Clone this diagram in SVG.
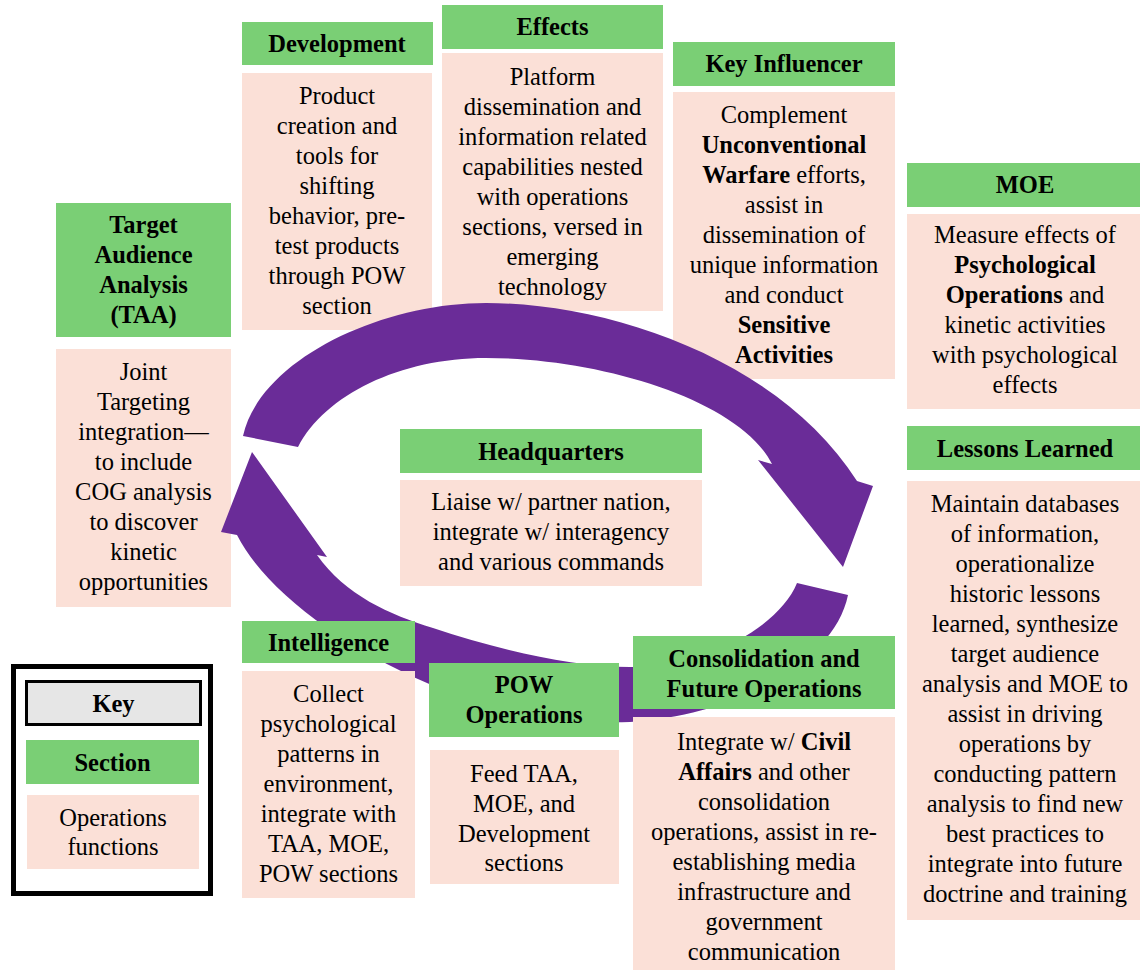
<svg xmlns="http://www.w3.org/2000/svg" width="1140" height="972" viewBox="0 0 1140 972" font-family="Liberation Serif, Times New Roman, serif">
  <style>
    .hdr { fill: #7acf75; }
    .body { fill: #fbe0d7; }
    text { font-family: "Liberation Serif", "Times New Roman", serif; font-size: 24.5px; fill: #000; text-anchor: middle; }
    .b { font-weight: bold; }
    .flow { fill: #6a2c98; }
  </style>
  <rect width="1140" height="972" fill="#fff"/>

  <!-- top row sections -->
  <g id="development">
    <rect class="hdr" x="242" y="22" width="191" height="43"/>
    <rect class="body" x="242" y="73" width="190" height="257"/>
    <text class="b" x="337" y="52">Development</text>
    <text x="337" y="104">Product</text>
    <text x="337" y="134">creation and</text>
    <text x="337" y="164">tools for</text>
    <text x="337" y="194">shifting</text>
    <text x="337" y="224">behavior, pre-</text>
    <text x="337" y="254">test products</text>
    <text x="337" y="284">through POW</text>
    <text x="337" y="314">section</text>
  </g>

  <g id="effects">
    <rect class="hdr" x="442" y="5" width="221" height="44"/>
    <rect class="body" x="442" y="53" width="221" height="258"/>
    <text class="b" x="552.5" y="35">Effects</text>
    <text x="552.5" y="85">Platform</text>
    <text x="552.5" y="115">dissemination and</text>
    <text x="552.5" y="145">information related</text>
    <text x="552.5" y="175">capabilities nested</text>
    <text x="552.5" y="205">with operations</text>
    <text x="552.5" y="235">sections, versed in</text>
    <text x="552.5" y="265">emerging</text>
    <text x="552.5" y="295">technology</text>
  </g>

  <g id="key-influencer">
    <rect class="hdr" x="673" y="42" width="222" height="44"/>
    <rect class="body" x="673" y="92" width="222" height="287"/>
    <text class="b" x="784" y="72">Key Influencer</text>
    <text x="784" y="123">Complement</text>
    <text class="b" x="784" y="153">Unconventional</text>
    <text x="784" y="183"><tspan class="b">Warfare</tspan> efforts,</text>
    <text x="784" y="213">assist in</text>
    <text x="784" y="243">dissemination of</text>
    <text x="784" y="273">unique information</text>
    <text x="784" y="303">and conduct</text>
    <text class="b" x="784" y="333">Sensitive</text>
    <text class="b" x="784" y="363">Activities</text>
  </g>

  <g id="moe">
    <rect class="hdr" x="907" y="163" width="236" height="44"/>
    <rect class="body" x="907" y="214" width="236" height="195"/>
    <text class="b" x="1025" y="193">MOE</text>
    <text x="1025" y="243">Measure effects of</text>
    <text class="b" x="1025" y="273">Psychological</text>
    <text x="1025" y="303"><tspan class="b">Operations</tspan> and</text>
    <text x="1025" y="333">kinetic activities</text>
    <text x="1025" y="363">with psychological</text>
    <text x="1025" y="393">effects</text>
  </g>

  <g id="target-audience-analysis">
    <rect class="hdr" x="56" y="203" width="175" height="134"/>
    <rect class="body" x="56" y="349" width="175" height="258"/>
    <text class="b" x="143.5" y="233">Target</text>
    <text class="b" x="143.5" y="263">Audience</text>
    <text class="b" x="143.5" y="293">Analysis</text>
    <text class="b" x="143.5" y="323">(TAA)</text>
    <text x="143.5" y="380">Joint</text>
    <text x="143.5" y="410">Targeting</text>
    <text x="143.5" y="440">integration—</text>
    <text x="143.5" y="470">to include</text>
    <text x="143.5" y="500">COG analysis</text>
    <text x="143.5" y="530">to discover</text>
    <text x="143.5" y="560">kinetic</text>
    <text x="143.5" y="590">opportunities</text>
  </g>

  <g id="headquarters">
    <rect class="hdr" x="400" y="429" width="302" height="44"/>
    <rect class="body" x="400" y="480" width="302" height="106"/>
    <text class="b" x="551" y="460">Headquarters</text>
    <text x="551" y="510">Liaise w/ partner nation,</text>
    <text x="551" y="540">integrate w/ interagency</text>
    <text x="551" y="570">and various commands</text>
  </g>

  <g id="lessons-learned">
    <rect class="hdr" x="907" y="426" width="236" height="44"/>
    <rect class="body" x="907" y="481" width="236" height="439"/>
    <text class="b" x="1025" y="457">Lessons Learned</text>
    <text x="1025" y="512">Maintain databases</text>
    <text x="1025" y="542">of information,</text>
    <text x="1025" y="572">operationalize</text>
    <text x="1025" y="602">historic lessons</text>
    <text x="1025" y="632">learned, synthesize</text>
    <text x="1025" y="662">target audience</text>
    <text x="1025" y="692">analysis and MOE to</text>
    <text x="1025" y="722">assist in driving</text>
    <text x="1025" y="752">operations by</text>
    <text x="1025" y="782">conducting pattern</text>
    <text x="1025" y="812">analysis to find new</text>
    <text x="1025" y="842">best practices to</text>
    <text x="1025" y="872">integrate into future</text>
    <text x="1025" y="902">doctrine and training</text>
  </g>

  <!-- cycle arrows -->
  <g id="connectors">
    <path class="flow" d="M243,436 C260,360 380,303 486,303 C610,303 780,360 857,481 L873,486 L843,567 L758,460 L772,464 C740,400 600,358 486,358 C400,358 325,395 298,447 Z"/>
    <path class="flow" d="M797,583 L848,595 C835,660 740,715 630,722 C560,725 480,708 427,683 C340,645 265,590 237,535 L221,532 L252,452 L327,557 L317,555 C345,595 390,615 433,628 C500,650 570,667 630,667 C710,667 780,625 797,583 Z"/>
  </g>

  <!-- bottom row sections -->
  <g id="intelligence">
    <rect class="hdr" x="242" y="621" width="173" height="42"/>
    <rect class="body" x="242" y="671" width="173" height="227"/>
    <text class="b" x="328.5" y="651">Intelligence</text>
    <text x="328.5" y="702">Collect</text>
    <text x="328.5" y="732">psychological</text>
    <text x="328.5" y="762">patterns in</text>
    <text x="328.5" y="792">environment,</text>
    <text x="328.5" y="822">integrate with</text>
    <text x="328.5" y="852">TAA, MOE,</text>
    <text x="328.5" y="882">POW sections</text>
  </g>

  <g id="pow-operations">
    <rect class="hdr" x="429" y="663" width="190" height="74"/>
    <rect class="body" x="430" y="750" width="189" height="134"/>
    <text class="b" x="524" y="693">POW</text>
    <text class="b" x="524" y="723">Operations</text>
    <text x="524" y="782">Feed TAA,</text>
    <text x="524" y="812">MOE, and</text>
    <text x="524" y="842">Development</text>
    <text x="524" y="871">sections</text>
  </g>

  <g id="consolidation">
    <rect class="hdr" x="633" y="636" width="262" height="73"/>
    <rect class="body" x="633" y="717" width="262" height="253"/>
    <text class="b" x="764" y="667">Consolidation and</text>
    <text class="b" x="764" y="697">Future Operations</text>
    <text x="764" y="750">Integrate w/ <tspan class="b">Civil</tspan></text>
    <text x="764" y="780"><tspan class="b">Affairs</tspan> and other</text>
    <text x="764" y="810">consolidation</text>
    <text x="764" y="840">operations, assist in re-</text>
    <text x="764" y="870">establishing media</text>
    <text x="764" y="900">infrastructure and</text>
    <text x="764" y="930">government</text>
    <text x="764" y="960">communication</text>
  </g>

  <!-- legend -->
  <g id="key">
    <rect x="13.5" y="666.5" width="197" height="227" fill="#fff" stroke="#000" stroke-width="5"/>
    <rect x="26.5" y="681.5" width="174" height="43" fill="#e6e6e6" stroke="#000" stroke-width="3"/>
    <rect class="hdr" x="26" y="740" width="173" height="44"/>
    <rect class="body" x="27" y="795" width="172" height="74"/>
    <text class="b" x="113.5" y="712">Key</text>
    <text class="b" x="112.5" y="771">Section</text>
    <text x="113" y="826">Operations</text>
    <text x="113" y="855">functions</text>
  </g>
</svg>
